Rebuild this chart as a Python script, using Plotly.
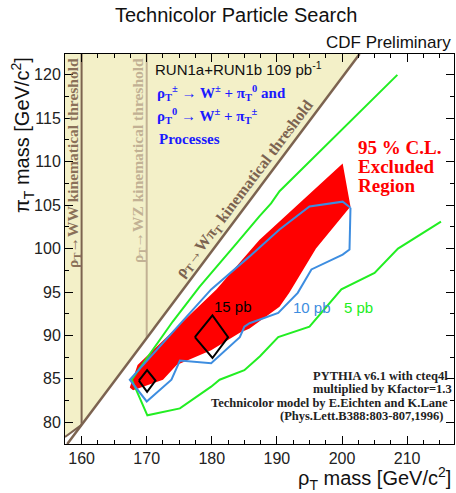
import plotly.graph_objects as go

# ---------------- data ----------------
# kinematic thresholds
beige_x = [157.45, 202.7, 160.0, 157.45]
beige_y = [122.4, 122.4, 79.7, 78.3]
wpi_x = [157.8, 202.7]          # rho_T -> W pi_T threshold (m_pi = m_rho - m_W)
wpi_y = [77.5, 122.4]
ww_x = [160.0, 160.0]
ww_y = [79.7, 122.4]
wz_x = [170.0, 170.0]
wz_y = [89.7, 122.4]
low_x = [157.45, 160.0]
low_y = [78.3, 79.7]

# 95% CL excluded region
red_x = [167.4, 168.6, 180.7, 187.3, 200.1, 201.3, 196.0, 191.9, 190.4, 185.8,
         184.3, 179.9, 174.6, 172.5, 167.9, 167.4]
red_y = [84.0, 86.6, 95.3, 101.0, 109.8, 104.85, 100.0, 94.9, 93.3, 90.8,
         90.3, 88.3, 86.6, 84.9, 83.7, 84.0]

# 5 pb contour
g_x = [208.5, 190.4, 189.1, 187.3, 183.8, 179.9, 178.1, 174.0, 167.7, 170.1,
       175.1, 179.9, 181.2, 185.0, 187.4, 190.2, 195.0, 199.9, 205.0, 208.6, 215.2]
g_y = [120.0, 106.6, 105.2, 103.7, 100.6, 97.2, 95.6, 91.6, 84.9, 80.8,
       81.6, 84.1, 84.9, 86.0, 87.6, 89.8, 91.0, 95.3, 97.2, 100.0, 103.1]

# 10 pb contour
b_x = [201.3, 200.1, 195.0, 190.4, 185.8, 179.9, 167.4, 170.0, 173.8, 175.1,
       179.9, 184.3, 185.0, 185.8, 190.2, 193.2, 195.3, 200.1, 201.15, 201.3]
b_y = [104.7, 105.4, 104.85, 102.2, 99.1, 95.3, 84.9, 82.4, 84.9, 87.1,
       86.8, 89.8, 91.0, 91.4, 92.6, 94.9, 97.6, 99.3, 99.9, 104.7]

# 15 pb contours (two small islands)
k1_x = [177.4, 180.1, 182.5, 180.1, 177.4]
k1_y = [89.8, 92.3, 89.8, 87.4, 89.8]
k2_x = [168.8, 170.06, 171.35, 170.06, 168.8]
k2_y = [84.8, 86.0, 84.8, 83.5, 84.8]

x_range = [157.45, 217.2]
y_range = [77.5, 122.4]

# ---------------- figure ----------------
W, H = 456, 493
L, R, T, B = 65, 2, 54, 49
pw, ph = W - L - R, H - T - B


def px(xp):
    return (xp - L) / pw


def py(yp):
    return (H - B - yp) / ph


BEIGE = "#f3f0c8"
BROWN = "#7c6350"
TAN = "#c2b194"
GREEN = "#22ee22"
BLUE = "#3d8de0"
SERIF = "Liberation Serif"
SANS = "Liberation Sans"

fig = go.Figure()
fig.add_trace(go.Scatter(x=beige_x, y=beige_y, fill="toself", fillcolor=BEIGE,
                         line=dict(width=0), mode="lines", hoverinfo="skip"))
fig.add_trace(go.Scatter(x=red_x, y=red_y, fill="toself", fillcolor="#ff0000",
                         line=dict(width=0, color="#ff0000"), mode="lines"))
fig.add_trace(go.Scatter(x=g_x, y=g_y, mode="lines", line=dict(color=GREEN, width=2)))
fig.add_trace(go.Scatter(x=b_x, y=b_y, mode="lines", line=dict(color=BLUE, width=2)))
fig.add_trace(go.Scatter(x=k1_x, y=k1_y, mode="lines", line=dict(color="black", width=2)))
fig.add_trace(go.Scatter(x=k2_x, y=k2_y, mode="lines", line=dict(color="black", width=2)))
fig.add_trace(go.Scatter(x=wz_x, y=wz_y, mode="lines", line=dict(color=TAN, width=2)))
fig.add_trace(go.Scatter(x=ww_x, y=ww_y, mode="lines", line=dict(color=BROWN, width=2)))
fig.add_trace(go.Scatter(x=low_x, y=low_y, mode="lines", line=dict(color=BROWN, width=2)))
fig.add_trace(go.Scatter(x=wpi_x, y=wpi_y, mode="lines", line=dict(color=BROWN, width=2.5)))

axis_common = dict(showgrid=False, zeroline=False, showline=True, linecolor="black",
                   linewidth=1, mirror="allticks", ticks="inside", ticklen=8,
                   tickcolor="black", tickfont=dict(family=SANS, size=16, color="#222"))
fig.update_xaxes(range=x_range, dtick=10, tick0=160,
                 minor=dict(ticks="inside", ticklen=4, dtick=2.5, tickcolor="black"),
                 **axis_common)
fig.update_yaxes(range=y_range, dtick=5, tick0=80,
                 minor=dict(ticks="inside", ticklen=4, dtick=2.5, tickcolor="black"),
                 **axis_common)

ann = []


def add(text, x, y, size, color="black", family=SANS, xanchor="left",
        yanchor="middle", angle=0):
    ann.append(dict(text=text, x=px(x), y=py(y), xref="paper", yref="paper",
                    showarrow=False, xanchor=xanchor, yanchor=yanchor,
                    textangle=angle, font=dict(family=family, size=size, color=color)))


add("Technicolor Particle Search", 236, 15, 20, color="#111", xanchor="center")
add("CDF Preliminary", 453, 42, 17, color="#111", xanchor="right")
add("RUN1a+RUN1b 109 pb<sup>-1</sup>", 153, 68, 15, color="#111")
add("<b>ρ<sub>T</sub><sup>±</sup> → W<sup>±</sup> + π<sub>T</sub><sup>0</sup> and</b>",
    155, 93, 15, color="#1a1aff", family=SERIF)
add("<b>ρ<sub>T</sub><sup>0</sup> → W<sup>±</sup> + π<sub>T</sub><sup>±</sup></b>",
    155, 116, 15, color="#1a1aff", family=SERIF)
add("<b>Processes</b>", 157, 139, 15, color="#1a1aff", family=SERIF)
add("<b>95 % C.L.</b>", 356, 147, 19, color="#ff0000", family=SERIF)
add("<b>Excluded</b>", 356, 166, 19, color="#ff0000", family=SERIF)
add("<b>Region</b>", 356, 185, 19, color="#ff0000", family=SERIF)
add("15 pb", 212, 306, 15, color="black")
add("10 pb", 291, 307, 15, color=BLUE)
add("5 pb", 342, 307, 15, color=GREEN)
add("<b>PYTHIA v6.1 with cteq4l</b>", 311, 376, 12.5, color="#222", family=SERIF)
add("<b>multiplied by Kfactor=1.3</b>", 311, 389, 12.5, color="#222", family=SERIF)
add("<b>Technicolor model by E.Eichten and K.Lane</b>", 450, 403, 12.5,
    color="#222", family=SERIF, xanchor="right")
add("<b>(Phys.Lett.B388:803-807,1996)</b>", 278, 416, 12.5, color="#222", family=SERIF)
add("ρ<sub>T</sub> mass [GeV/c<sup>2</sup>]", 453, 479, 20, color="#111", xanchor="right")
add("π<sub>T</sub> mass [GeV/c<sup>2</sup>]", 22, 55, 20, color="#111",
    xanchor="center", yanchor="top", angle=-90)
add("<b>ρ<sub>T</sub>→WW kinematical threshold</b>", 73, 163, 15.5, color="#8a7058",
    family=SERIF, xanchor="center", angle=-90)
add("<b>ρ<sub>T</sub>→WZ kinematical threshold</b>", 138, 161, 15.5, color=TAN,
    family=SERIF, xanchor="center", angle=-90)
add("<b>ρ<sub>T</sub>→Wπ<sub>T</sub> kinematical threshold</b>", 244, 189, 16,
    color=BROWN, family=SERIF, xanchor="center", angle=-53)

fig.update_layout(width=W, height=H, margin=dict(l=L, r=R, t=T, b=B),
                  paper_bgcolor="white", plot_bgcolor="white", showlegend=False,
                  annotations=ann)
fig.write_html("out.html", config={"displayModeBar": False},
               post_script="document.body.style.margin='0';"
                           "document.body.style.overflow='hidden';")
